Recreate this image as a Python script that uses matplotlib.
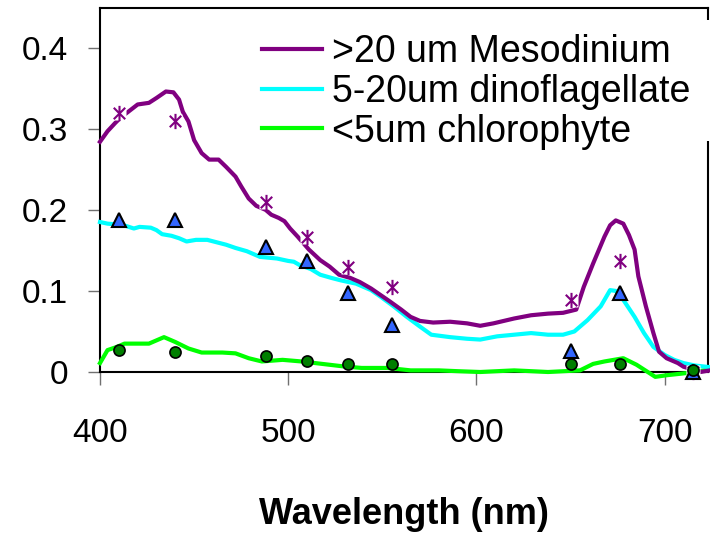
import matplotlib
matplotlib.use("Agg")
import matplotlib.pyplot as plt
from matplotlib.path import Path
from matplotlib.patches import Rectangle
from matplotlib.lines import Line2D

plt.rcParams['font.family'] = ['Liberation Sans', 'DejaVu Sans']

# ---- data ----
meso_wl = [400, 404, 408, 411, 415, 420, 426, 430, 435, 439, 442, 444, 447, 450, 454, 458, 463, 467,
           472, 475, 479, 483, 488, 491, 495, 498, 501, 505, 511, 517, 522, 527, 533, 538, 544, 549,
           554, 560, 565, 570, 577, 586, 595, 602, 609, 620, 629, 638, 646, 653, 657, 662, 668, 671,
           674, 678, 681, 684, 686, 690, 694, 697, 701, 707, 710, 715, 719, 724]
meso_val = [0.284, 0.297, 0.307, 0.314, 0.321, 0.330, 0.332, 0.338, 0.346, 0.345, 0.336, 0.321, 0.309,
            0.286, 0.270, 0.262, 0.262, 0.253, 0.241, 0.229, 0.214, 0.205, 0.200, 0.194, 0.190, 0.186,
            0.177, 0.167, 0.151, 0.138, 0.130, 0.120, 0.116, 0.111, 0.103, 0.095, 0.087, 0.077, 0.068,
            0.063, 0.061, 0.062, 0.060, 0.057, 0.060, 0.066, 0.070, 0.072, 0.073, 0.077, 0.105, 0.134,
            0.167, 0.181, 0.187, 0.183, 0.169, 0.151, 0.118, 0.081, 0.048, 0.025, 0.017, 0.011, 0.0065,
            0.003, 0.000, 0.002]

dino_wl = [400, 404, 409, 414, 418, 421, 427, 430, 433, 438, 442, 446, 451, 457, 462, 467, 472, 478,
           485, 494, 500, 503, 506, 512, 517, 523, 528, 536, 544, 549, 556, 563, 570, 576, 586, 595,
           602, 611, 620, 629, 638, 646, 652, 659, 666, 671, 674, 678, 684, 689, 694, 700, 705, 710,
           716, 724]
dino_val = [0.185, 0.183, 0.182, 0.180, 0.177, 0.179, 0.178, 0.175, 0.170, 0.168, 0.165, 0.161, 0.163,
            0.163, 0.160, 0.157, 0.153, 0.149, 0.142, 0.140, 0.137, 0.136, 0.132, 0.127, 0.120, 0.116,
            0.113, 0.109, 0.101, 0.093, 0.081, 0.068, 0.056, 0.046, 0.043, 0.041, 0.040, 0.044, 0.046,
            0.048, 0.046, 0.046, 0.050, 0.064, 0.081, 0.101, 0.100, 0.089, 0.068, 0.048, 0.031, 0.021,
            0.015, 0.011, 0.008, 0.006]

chloro_wl = [400, 404, 409, 413, 420, 426, 430, 434, 440, 447, 454, 465, 472, 479, 486, 497, 507, 518,
             529, 539, 553, 565, 580, 590, 602, 620, 638, 655, 662, 668, 678, 685, 691, 695, 701, 709,
             716, 723]
chloro_val = [0.011, 0.027, 0.031, 0.035, 0.035, 0.035, 0.039, 0.043, 0.037, 0.029, 0.024, 0.024, 0.023,
              0.017, 0.013, 0.015, 0.013, 0.010, 0.007, 0.005, 0.005, 0.002, 0.002, 0.001, 0.000, 0.002,
              0.000, 0.002, 0.010, 0.013, 0.017, 0.009, 0.000, -0.006, -0.004, -0.002, 0.000, 0.003]

pt_wl = [410, 440, 488, 510, 532, 555, 650, 676, 715]
meso_pts = [0.320, 0.310, 0.210, 0.167, 0.130, 0.105, 0.089, 0.137, 0.000]
dino_pts = [0.188, 0.188, 0.154, 0.137, 0.097, 0.058, 0.026, 0.098, 0.000]
chloro_pts = [0.027, 0.025, 0.020, 0.014, 0.010, 0.010, 0.010, 0.010, 0.002]

labels = ['>20 um Mesodinium', '5-20um dinoflagellate', '<5um chlorophyte']
xticks = [400, 500, 600, 700]
yticks = [0, 0.1, 0.2, 0.3, 0.4]
ytick_labels = ['0', '0.1', '0.2', '0.3', '0.4']

# ---- figure ----
W, H = 710, 535
fig = plt.figure(figsize=(W / 100, H / 100), dpi=100)
ax = fig.add_axes([100 / W, (H - 372) / H, (708 - 100) / W, (372 - 8) / H])

purple, cyan, lime = '#800080', '#00FFFF', '#00FF00'
lw = 3.0
ax.plot(chloro_wl, chloro_val, color=lime, lw=lw, clip_on=False, zorder=3)
ax.plot(dino_wl, dino_val, color=cyan, lw=lw, clip_on=False, zorder=3)
ax.plot(meso_wl, meso_val, color=purple, lw=lw, clip_on=False, zorder=3)

star = Path([(0, -1), (0, 1), (-0.75, -0.75), (0.75, 0.75), (-0.75, 0.75), (0.75, -0.75)],
            [Path.MOVETO, Path.LINETO, Path.MOVETO, Path.LINETO, Path.MOVETO, Path.LINETO])
ax.plot(pt_wl, meso_pts, ls='none', marker='s', ms=10, mfc='white', mec='none', clip_on=False, zorder=4)
ax.plot(pt_wl, meso_pts, ls='none', marker=star, ms=11, mec=purple, mew=1.5, clip_on=False, zorder=4)
ax.plot(pt_wl, dino_pts, ls='none', marker='^', ms=9.5, mfc='#3366FF', mec='black', mew=1.5,
        clip_on=False, zorder=5)
ax.plot(pt_wl, chloro_pts, ls='none', marker='o', ms=8, mfc='#007F00', mec='black', mew=1.2,
        clip_on=False, zorder=6)

ax.set_xlim(400, 723)
ax.set_ylim(0, 0.449)
ax.set_xticks(xticks)
ax.set_yticks(yticks)
ax.set_yticklabels(ytick_labels)
ax.tick_params(axis='both', direction='out', length=9, width=1, color='#707070', labelsize=24)
ax.tick_params(axis='y', pad=14)
ax.tick_params(axis='x', pad=24)
for s in ax.spines.values():
    s.set_linewidth(1.5)
    s.set_color('black')

ax.set_xlabel('Wavelength (nm)', fontsize=26, fontweight='bold')
ax.xaxis.label.set_va('center')
ax.xaxis.set_label_coords(0.5, (372 - 515) / 364)

# legend box covering the top-right area
def px2ax(x, y):
    return (x - 100) / 608, (372 - y) / 364

x0, y0 = px2ax(250, 141)
x1, y1 = px2ax(712, 20)
ax.add_patch(Rectangle((x0, y0), x1 - x0, y1 - y0, transform=ax.transAxes, facecolor='white',
                       edgecolor='none', clip_on=False, zorder=7))
handles = [Line2D([], [], color=c, lw=lw) for c in (purple, cyan, lime)]
lx, ly = px2ax(262, 34)
leg = ax.legend(handles, labels, loc='upper left', bbox_to_anchor=(lx, ly), frameon=False,
                fontsize=27, handlelength=1.6, handletextpad=0.27, labelspacing=0.1, borderpad=0,
                borderaxespad=0)
leg.set_zorder(8)

fig.savefig('out.png', dpi=100)
